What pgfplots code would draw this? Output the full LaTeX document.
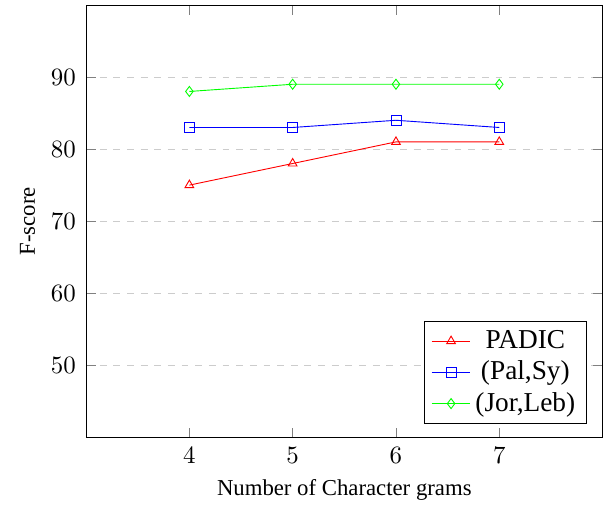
\documentclass[border=0pt]{standalone}
\usepackage{fontspec}
\setmainfont{Liberation Serif}
\usepackage{pgfplots}
\pgfplotsset{compat=1.18}

\begin{document}
\begin{tikzpicture}
\begin{axis}[
    scale only axis,
    width=227pt,
    height=190pt,
    xmin=3, xmax=8,
    ymin=40, ymax=100,
    xtick={4,5,6,7},
    ytick={50,60,70,80,90},
    tick label style={font=\fontsize{11}{13}\selectfont},
    yticklabel style={xshift=-1pt},
    xticklabel style={yshift=-1pt},
    xlabel={Number of Character grams},
    ylabel={F-score},
    ymajorgrids,
    grid style={dashed, gray!40},
    mark size=2.2pt,
    legend pos=south east,
    legend cell align=center,
    legend style={font=\large},
]
\addplot[color=red, mark=triangle] coordinates {
    (4,75) (5,78) (6,81) (7,81)
};
\addlegendentry{PADIC}
\addplot[color=blue, mark=square] coordinates {
    (4,83) (5,83) (6,84) (7,83)
};
\addlegendentry{(Pal,Sy)}
\addplot[color=green, mark=diamond] coordinates {
    (4,88) (5,89) (6,89) (7,89)
};
\addlegendentry{(Jor,Leb)}
\end{axis}
% a little blank room left and above, as in the reference
\path ([xshift=-5.5pt]current axis.outer west) ([yshift=2.2pt]current axis.north);
\end{tikzpicture}
\end{document}
